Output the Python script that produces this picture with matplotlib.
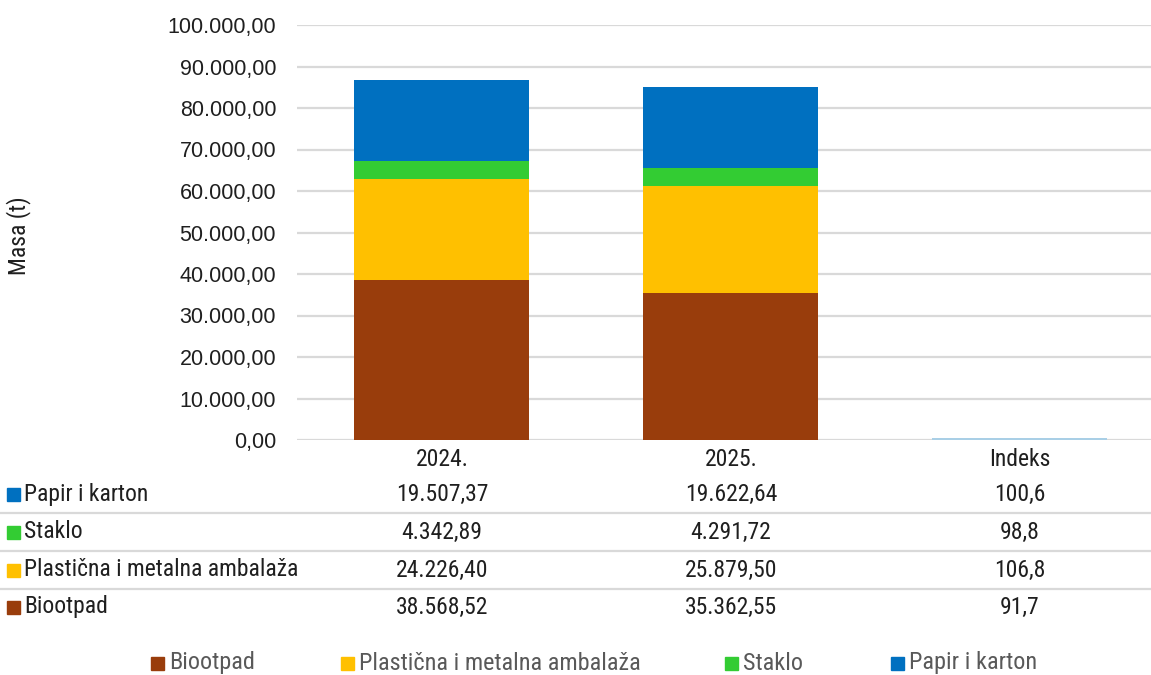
import numpy as np
import matplotlib.pyplot as plt
from matplotlib.patches import Rectangle

W, H = 1151, 675

# data
columns = ["2024.", "2025.", "Indeks"]
series = ["Biootpad", "Plastična i metalna ambalaža", "Staklo", "Papir i karton"]
colors = ["#993d0c", "#ffc000", "#33cc33", "#0070c0"]
biootpad = [38568.52, 35362.55, 91.7]
plastika = [24226.40, 25879.50, 106.8]
staklo = [4342.89, 4291.72, 98.8]
papir = [19507.37, 19622.64, 100.6]
values = [biootpad, plastika, staklo, papir]

yticks = np.arange(0, 100001, 10000)

narrow = ["Roboto Condensed", "Liberation Sans Narrow", "Roboto", "DejaVu Sans"]
regular = ["Liberation Sans", "DejaVu Sans"]
dark = "#1f1f1f"


def hr(v, dec=2):
    # croatian number format: 38.568,52
    s = f"{v:,.{dec}f}"
    return s.replace(",", "X").replace(".", ",").replace("X", ".")


def fx(px):
    return px / W


def fy(py):
    return 1 - py / H


fig = plt.figure(figsize=(W / 100, H / 100), dpi=100)
fig.patch.set_facecolor("white")

# plot area in pixels: x 297 -> 1164, y 25 -> 440
ax = fig.add_axes([fx(297), fy(440), fx(1164 - 297), (440 - 25) / H])
ax.set_facecolor("none")
x = np.arange(len(columns))
bottom = np.zeros(len(columns))
for vals, col in zip(values, colors):
    v = np.array(vals)
    ax.bar(x, v, width=0.605, bottom=bottom, color=col, zorder=3)
    bottom += v
# index stack is tiny on this scale, shows as a thin light line
ax.bar(x[2], bottom[2], width=0.605, color="#a9cfe6", zorder=4)

ax.set_xlim(-0.5, 2.5)
ax.set_ylim(0, 100000)
ax.set_yticks(yticks)
ax.set_yticklabels([hr(t) for t in yticks], fontsize=15.5, family=regular, color=dark)
ax.tick_params(axis="y", length=0, pad=15)
ax.tick_params(axis="x", length=0, labelbottom=False)
ax.grid(axis="y", color="#d9d9d9", linewidth=1.6, zorder=0)
for s in ax.spines.values():
    s.set_visible(False)

fig.text(fx(19), fy(236), "Masa (t)", rotation=90, ha="center", va="center",
         fontsize=17, family=narrow, color=dark)

# data table under the chart
col_x = [442, 731, 1020]
for cx, name in zip(col_x, columns):
    fig.text(fx(cx), fy(460), name, ha="center", va="center", fontsize=17,
             family=narrow, color=dark)

row_y = [494, 532, 570, 607]
order = [3, 2, 1, 0]
for ry, i in zip(row_y, order):
    fig.add_artist(Rectangle((fx(7), fy(ry + 7)), fx(13), 13 / H, color=colors[i]))
    fig.text(fx(24), fy(ry), series[i], ha="left", va="center", fontsize=17,
             family=narrow, color=dark)
    for k, cx in enumerate(col_x):
        txt = hr(values[i][k], 1 if k == 2 else 2)
        fig.text(fx(cx), fy(ry), txt, ha="center", va="center", fontsize=17,
                 family=narrow, color=dark)
for ly in [513, 551, 589]:
    fig.add_artist(plt.Line2D([0, 1], [fy(ly), fy(ly)], color="#d9d9d9", lw=1.6))

# legend
leg_x = [151, 341, 725, 891]
for lx, name, col in zip(leg_x, series, colors):
    fig.add_artist(Rectangle((fx(lx), fy(670)), fx(13), 13 / H, color=col))
    fig.text(fx(lx + 18), fy(663), name, ha="left", va="center", fontsize=17.5,
             family=narrow, color="#595959")

fig.savefig("out.png", dpi=100, facecolor="white")
